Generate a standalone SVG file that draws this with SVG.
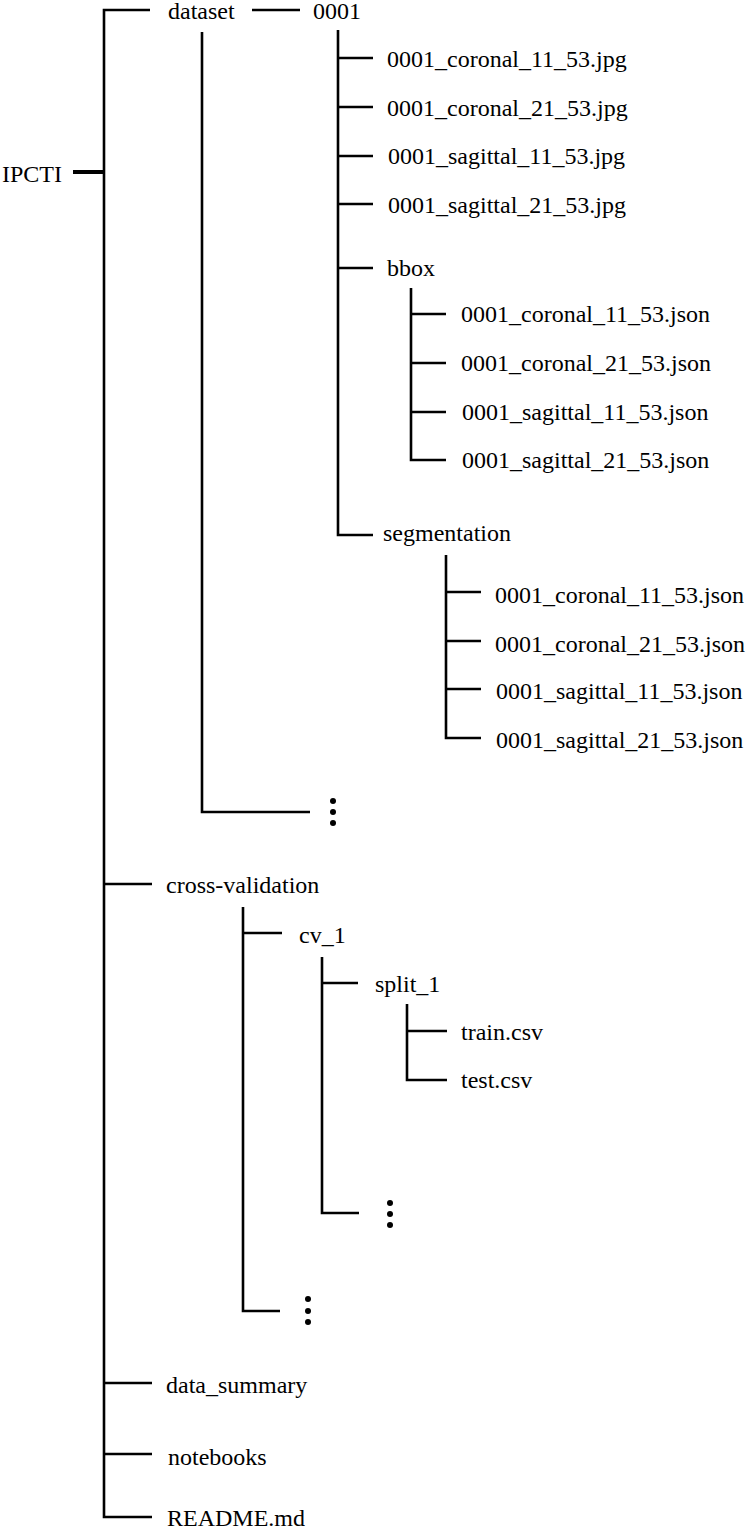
<svg xmlns="http://www.w3.org/2000/svg" width="750" height="1530" viewBox="0 0 750 1530">
<style>
.ln{stroke:#000;stroke-width:2.6;fill:none;stroke-linecap:butt;stroke-linejoin:miter}
.dot{fill:#000}
</style>
<rect width="750" height="1530" fill="#fff"/>
<g id="connectors">
<line x1="73" y1="172" x2="104" y2="172" stroke="#000" stroke-width="4"/>
<path class="ln" d="M150 10 H104 V1517 H152"/>
<path class="ln" d="M104 884 H152"/>
<path class="ln" d="M104 1383 H152"/>
<path class="ln" d="M104 1454 H152"/>
<path class="ln" d="M252 10 H300"/>
<path class="ln" d="M202 32 V812 H310"/>
<path class="ln" d="M338 30 V535 H373"/>
<path class="ln" d="M338 58 H373 M338 107 H373 M338 156 H373 M338 204 H373 M338 268 H373"/>
<path class="ln" d="M411 288 V460 H446 M411 314 H446 M411 363 H446 M411 412 H446"/>
<path class="ln" d="M446 555 V738 H481 M446 592 H481 M446 641 H481 M446 689 H481"/>
<path class="ln" d="M243 907 V1311 H280 M243 933 H282"/>
<path class="ln" d="M322 957 V1213 H359 M322 983 H358"/>
<path class="ln" d="M407 1004 V1080 H447 M407 1031 H447"/>
</g>
<g font-family="Liberation Serif" font-size="24" fill="#000">
<g id="n-ipcti"><text x="2" y="182">IPCTI</text></g>
<g id="n-dataset"><text x="168" y="19">dataset</text></g>
<g id="n-0001"><text x="313" y="19">0001</text></g>
<g id="n-jpg1"><text x="387" y="67">0001_coronal_11_53.jpg</text></g>
<g id="n-jpg2"><text x="387" y="116">0001_coronal_21_53.jpg</text></g>
<g id="n-jpg3"><text x="388" y="164">0001_sagittal_11_53.jpg</text></g>
<g id="n-jpg4"><text x="388" y="213">0001_sagittal_21_53.jpg</text></g>
<g id="n-bbox"><text x="387" y="276">bbox</text></g>
<g id="n-bb1"><text x="461" y="322">0001_coronal_11_53.json</text></g>
<g id="n-bb2"><text x="461" y="371">0001_coronal_21_53.json</text></g>
<g id="n-bb3"><text x="462" y="420">0001_sagittal_11_53.json</text></g>
<g id="n-bb4"><text x="462" y="468">0001_sagittal_21_53.json</text></g>
<g id="n-seg"><text x="383" y="541">segmentation</text></g>
<g id="n-sg1"><text x="495" y="603">0001_coronal_11_53.json</text></g>
<g id="n-sg2"><text x="495" y="652">0001_coronal_21_53.json</text></g>
<g id="n-sg3"><text x="496" y="699">0001_sagittal_11_53.json</text></g>
<g id="n-sg4"><text x="496" y="748">0001_sagittal_21_53.json</text></g>
<g id="n-cv"><text x="166" y="893">cross-validation</text></g>
<g id="n-cv1"><text x="299" y="943">cv_1</text></g>
<g id="n-split1"><text x="375" y="992">split_1</text></g>
<g id="n-train"><text x="461" y="1040">train.csv</text></g>
<g id="n-test"><text x="461" y="1088">test.csv</text></g>
<g id="n-summary"><text x="166" y="1393">data_summary</text></g>
<g id="n-notebooks"><text x="168" y="1465">notebooks</text></g>
<g id="n-readme"><text x="167" y="1526">README.md</text></g>
</g>
<g id="n-dots1"><circle class="dot" cx="333" cy="801" r="3"/><circle class="dot" cx="333" cy="812" r="3"/><circle class="dot" cx="333" cy="823" r="3"/></g>
<g id="n-dots2"><circle class="dot" cx="390" cy="1203" r="3"/><circle class="dot" cx="390" cy="1214" r="3"/><circle class="dot" cx="390" cy="1225" r="3"/></g>
<g id="n-dots3"><circle class="dot" cx="308" cy="1299" r="3"/><circle class="dot" cx="308" cy="1311" r="3"/><circle class="dot" cx="308" cy="1322" r="3"/></g>
</svg>
